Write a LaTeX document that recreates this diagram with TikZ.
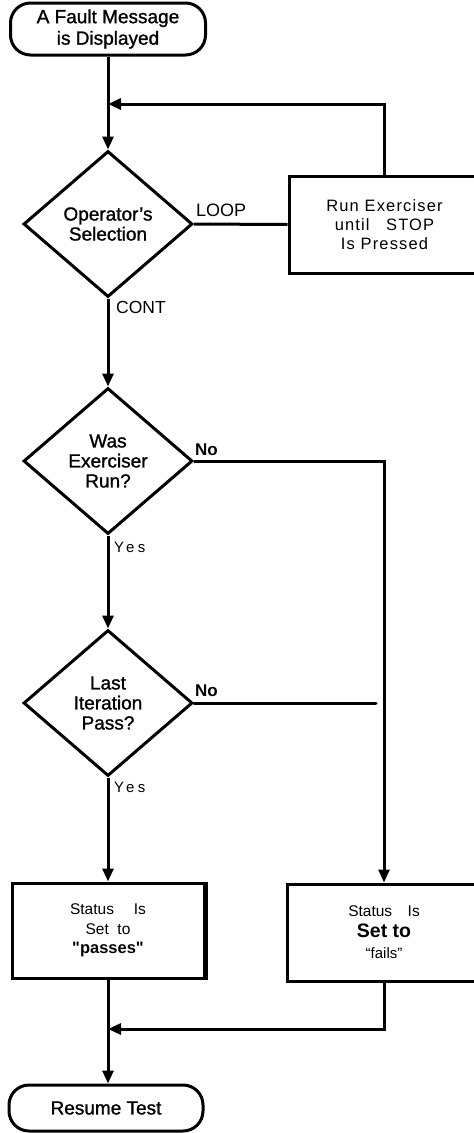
\documentclass[tikz,border=0pt]{standalone}
\usepackage{fontspec}
\setmainfont{Liberation Sans}
\newfontfamily\medfont{Liberation Sans}[FakeBold=1.2]
\newfontfamily\plainbold{Liberation Sans Bold}[Ligatures=TeXOff]
\newfontfamily\spacedfont{Liberation Sans}[LetterSpace=7]
\newfontfamily\widefont{Liberation Sans}[LetterSpace=22]
\usetikzlibrary{shapes.geometric,arrows.meta}
\tikzset{
  lw/.style={line width=3pt},
  term/.style={lw,draw,rounded corners=20pt,align=center,inner sep=0pt,
    font=\medfont\fontsize{19}{21.5}\selectfont},
  dec/.style={lw,draw,diamond,inner sep=0pt,minimum width=169pt,minimum height=146pt,
    shape aspect=1.16,align=center,font=\medfont\fontsize{19}{20}\selectfont},
  proc/.style={lw,draw,align=center,inner sep=0pt},
  conn/.style={lw},
  arr/.style={lw,-{Triangle[length=13pt,width=11pt]}},
  lbl/.style={inner sep=0pt,anchor=base west},
}
\begin{document}
\begin{tikzpicture}[x=1pt,y=-1pt]
\useasboundingbox (0,0) rectangle (474,1133);
\clip (0,0) rectangle (474,1133);
% nodes
\node[term,minimum width=195pt,minimum height=52pt] (start) at (108,29) {A Fault Message\\is Displayed};
\node[dec] (sel) at (108,224) {Operator’s\\Selection};
\node[proc,minimum width=191pt,minimum height=97pt,
  font=\spacedfont\fontsize{16.5}{19}\selectfont] (run) at (384.5,224.5)
  {Run Exerciser\\until\quad STOP\\Is Pressed};
\node[dec] (was) at (108,461) {Was\\Exerciser\\Run?};
\node[dec] (last) at (108,703) {Last\\Iteration\\Pass?};
\node[proc,minimum width=192pt,minimum height=95pt,font=\fontsize{15.5}{19.5}\selectfont]
  (pass) at (108,930.5)
  {Status\quad\ Is\\Set\ \ to\\{\plainbold\fontsize{16.5}{19.5}\selectfont "passes"}};
\node[proc,minimum width=193pt,minimum height=97pt,font=\fontsize{15.5}{21}\selectfont]
  (fail) at (384,932.5)
  {Status\quad Is\\{\bfseries\fontsize{19.5}{21}\selectfont Set to}\\{\fontsize{15}{16}\selectfont “fails”}};
\node[term,minimum width=194pt,minimum height=46pt] (resume) at (106,1108) {Resume Test};
% extra heavy right side of the passes box
\draw[line width=5pt] (pass.north east) -- (pass.south east);
% coordinates
\coordinate (j1) at (108,104);
\coordinate (m) at (108,1029);
\coordinate (lastno) at (376,703);
% connectors
\draw[arr] (start.south) -- (sel.north);
\draw[arr] (run.north) |- (j1);
\draw[conn] (sel.east) -- (run.west);
\draw[arr] (sel.south) -- (was.north);
\draw[arr] (was.east) -| (fail.north);
\draw[arr] (was.south) -- (last.north);
\draw[conn,line cap=round] (last.east) -- (lastno);
\draw[arr] (last.south) -- (pass.north);
\draw[arr] (pass.south) -- (m |- resume.north);
\draw[arr] (fail.south) |- (m);
% labels
\node[lbl,font=\fontsize{18}{18}\selectfont] (lloop) at (196,216) {LOOP};
\node[lbl,font=\fontsize{17.5}{18}\selectfont] (lcont) at (116,313) {CONT};
\node[lbl,font=\bfseries\fontsize{17}{18}\selectfont] (lno1) at (195,455) {No};
\node[lbl,font=\widefont\fontsize{15}{18}\selectfont] (lyes1) at (114,552) {Yes};
\node[lbl,font=\bfseries\fontsize{17}{18}\selectfont] (lno2) at (195,696) {No};
\node[lbl,font=\widefont\fontsize{15}{18}\selectfont] (lyes2) at (114,792) {Yes};
\end{tikzpicture}
\end{document}
